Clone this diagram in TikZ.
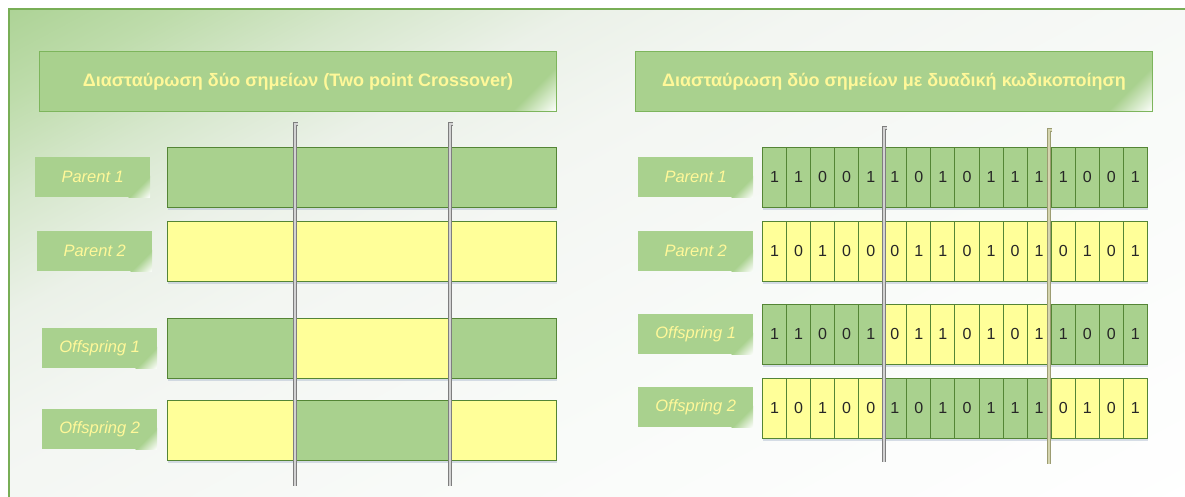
\documentclass[tikz,border=0pt]{standalone}
\usepackage{fontspec}
\setmainfont{Liberation Sans}
\usetikzlibrary{shadows,calc}
\definecolor{gfill}{HTML}{A9D18E}
\definecolor{yfill}{HTML}{FFFF99}
\definecolor{gborder}{HTML}{548535}
\definecolor{tborder}{HTML}{7DB55C}
\definecolor{txty}{HTML}{FFF899}
\definecolor{digitc}{HTML}{262626}
\definecolor{framec}{HTML}{78AE56}
\definecolor{bgA}{HTML}{ADD396}
\definecolor{bgB}{HTML}{BEDCAB}
\definecolor{bgC}{HTML}{D6E7CC}
\definecolor{bgD}{HTML}{EBF1E8}
\definecolor{bgE}{HTML}{F3F6F2}
\definecolor{bgF}{HTML}{F9FBF9}
\definecolor{shadowc}{HTML}{A8B6CC}
\definecolor{cutA}{HTML}{7E7E7E}
\definecolor{cutB}{HTML}{D2D2D2}
\definecolor{cutC}{HTML}{9C9C72}
\definecolor{cutD}{HTML}{D4D4AE}
\pgfdeclarehorizontalshading{bgfade}{100bp}{color(0bp)=(bgA); color(25bp)=(bgA); color(29bp)=(bgB); color(33.5bp)=(bgC); color(38.5bp)=(bgD); color(44bp)=(bgE); color(57.5bp)=(bgF); color(75bp)=(white); color(100bp)=(white)}
\tikzset{
  fadecorner/.style={path picture={
    \begin{scope}[transform canvas={rotate around={-45:(path picture bounding box.south east)}}]
      \shade[left color=gfill, right color=white] ([xshift=-#1, yshift=-90pt]path picture bounding box.south east) rectangle ([yshift=90pt]path picture bounding box.south east);
    \end{scope}}},
  titlebox/.style={anchor=north west, minimum width=517pt, minimum height=60pt, inner sep=0pt, fill=gfill, draw=tborder, line width=1pt, text=txty, font=\bfseries\fontsize{18}{21}\selectfont, fadecorner=32pt},
  labelbox/.style={anchor=north west, minimum width=115pt, minimum height=40pt, inner sep=0pt, fill=gfill, text=txty, font=\itshape\fontsize{16.5}{19}\selectfont, fadecorner=15pt},
  barbase/.style={anchor=north west, minimum height=60pt, inner sep=0pt, fill=white, drop shadow={shadow xshift=0.6pt, shadow yshift=-2.5pt, opacity=0.45, fill=shadowc}},
  seg/.style={anchor=north west, minimum height=60pt, inner sep=0pt, draw=gborder, line width=1.4pt},
  cell/.style={anchor=north west, minimum width=24.06pt, minimum height=60pt, inner sep=0pt, draw=gborder, line width=0.9pt, text=digitc, font=\fontsize{16}{16}\selectfont},
  cutline/.style={draw=cutA, double=cutB, double distance=1.3pt, line width=0.9pt},
  cutlinetan/.style={draw=cutC, double=cutD, double distance=1.3pt, line width=0.9pt}
}
\begin{document}
\begin{tikzpicture}[x=1pt, y=-1pt]
\useasboundingbox (0,0) rectangle (1185,496);
\clip (0,0) rectangle (1185,496);
\fill[white] (0,0) rectangle (1185,496);
% background panel
\coordinate (bgc) at (9,9);
\begin{scope}
  \clip (9,9) rectangle (1195,505);
  \begin{scope}[transform canvas={rotate around={-62:(bgc)}}]
    \shade[shading=bgfade] ([yshift=1300pt]bgc) rectangle ([xshift=1000pt, yshift=-1300pt]bgc);
  \end{scope}
\end{scope}
\draw[framec, line width=1.2pt] (1195,9) -- (9,9) -- (9,505);
% titles
\node[titlebox] (tl) at (39,51) {Διασταύρωση δύο σημείων (Two point Crossover)};
\node[titlebox] (tr) at (635,51) {Διασταύρωση δύο σημείων με δυαδική κωδικοποίηση};
% left labels
\node[labelbox] (lp1) at (35,157) {Parent 1};
\node[labelbox] (lp2) at (37,231) {Parent 2};
\node[labelbox] (lo1) at (42,328) {Offspring 1};
\node[labelbox] (lo2) at (42,409) {Offspring 2};
% right labels
\node[labelbox] (rlp1) at (638,157) {Parent 1};
\node[labelbox] (rlp2) at (638,231) {Parent 2};
\node[labelbox] (rlo1) at (638,314) {Offspring 1};
\node[labelbox] (rlo2) at (638,387) {Offspring 2};
% left bars
\foreach \n/\y/\ca/\cb/\cc in {bp1/147/gfill/gfill/gfill, bp2/221/yfill/yfill/yfill, bo1/318/gfill/yfill/gfill, bo2/400/yfill/gfill/yfill}{
  \node[barbase, minimum width=389pt] (\n) at (167,\y) {};
  \node[seg, fill=\ca, minimum width=128pt] (\n-a) at (167,\y) {};
  \node[seg, fill=\cb, minimum width=155pt] (\n-b) at (295,\y) {};
  \node[seg, fill=\cc, minimum width=106pt] (\n-c) at (450,\y) {};
}
% right bars
\foreach \n/\y in {rp1/147, rp2/221, ro1/304, ro2/378}{
  \node[barbase, minimum width=385pt] (\n) at (762,\y) {};
}
\foreach \v [count=\i] in {1,1,0,0,1,1,0,1,0,1,1,1,1,0,0,1}{
  \node[cell, fill=gfill] (rp1-\i) at ({762+(\i-1)*24.06},147) {\v};
}
\foreach \v [count=\i] in {1,0,1,0,0,0,1,1,0,1,0,1,0,1,0,1}{
  \node[cell, fill=yfill] (rp2-\i) at ({762+(\i-1)*24.06},221) {\v};
}
\foreach \v [count=\i] in {1,1,0,0,1,0,1,1,0,1,0,1,1,0,0,1}{
  \ifnum\i<6 \def\cc{gfill}\else\ifnum\i>12 \def\cc{gfill}\else\def\cc{yfill}\fi\fi
  \node[cell, fill=\cc] (ro1-\i) at ({762+(\i-1)*24.06},304) {\v};
}
\foreach \v [count=\i] in {1,0,1,0,0,1,0,1,0,1,1,1,0,1,0,1}{
  \ifnum\i<6 \def\cc{yfill}\else\ifnum\i>12 \def\cc{yfill}\else\def\cc{gfill}\fi\fi
  \node[cell, fill=\cc] (ro2-\i) at ({762+(\i-1)*24.06},378) {\v};
}
% cut lines
\coordinate (l1t) at (298,124); \coordinate (l1b) at (295,486);
\coordinate (l2t) at (453,124); \coordinate (l2b) at (450,486);
\coordinate (r1t) at (887,128); \coordinate (r1b) at (884,462);
\coordinate (r2t) at (1052,130); \coordinate (r2b) at (1049,464);
\draw[cutline] (l1t) -| (l1b);
\draw[cutline] (l2t) -| (l2b);
\draw[cutline] (r1t) -| (r1b);
\draw[cutlinetan] (r2t) -| (r2b);
\end{tikzpicture}
\end{document}
